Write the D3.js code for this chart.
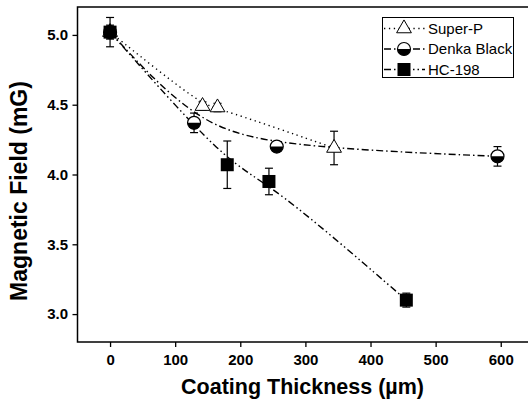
<!DOCTYPE html>
<html>
<head>
<meta charset="utf-8">
<script src="https://cdn.jsdelivr.net/npm/d3@7"></script>
<style>
  body { margin: 0; background: #fff; }
  text { font-family: "Liberation Sans", Arial, sans-serif; fill: #000; }
</style>
</head>
<body>
<div id="chart"></div>
<script>
// values
const seriesNames = ['Super-P', 'Denka Black', 'HC-198'];

const superPThickness = [0, 142, 165, 344];
const superPField = [5.02, 4.49, 4.48, 4.19];
const superPError = [0.04, 0.03, 0.03, 0.12];

const denkaThickness = [0, 129, 256, 595];
const denkaField = [5.02, 4.37, 4.2, 4.13];
const denkaError = [0.05, 0.07, 0.03, 0.07];

const hcThickness = [0, 180, 244, 455];
const hcField = [5.02, 4.07, 3.95, 3.1];
const hcError = [0.105, 0.17, 0.095, 0.05];

const xTicks = [0, 100, 200, 300, 400, 500, 600];
const yTicks = [3.0, 3.5, 4.0, 4.5, 5.0];

const width = 528;
const height = 406;

const x = d3.scaleLinear().domain([-50, 650]).range([77.5, 533.3]);
const y = d3.scaleLinear().domain([2.8, 5.2]).range([342, 7]);

const zip = (xs, ys, es) => xs.map((t, i) => ({ t, v: ys[i], e: es[i] }));

const series = [
  { name: seriesNames[0], marker: 'triangle', dash: '1.3,3.6', points: zip(superPThickness, superPField, superPError) },
  { name: seriesNames[1], marker: 'halfcircle', dash: '7,3,1.5,3', points: zip(denkaThickness, denkaField, denkaError) },
  { name: seriesNames[2], marker: 'square', dash: '7,3,1.5,3,1.5,3', points: zip(hcThickness, hcField, hcError) },
];

const svg = d3.select('#chart')
  .append('svg')
  .attr('width', width)
  .attr('height', height);

// axes
const xAxis = svg.append('g')
  .attr('transform', `translate(0,${y.range()[0]})`)
  .call(d3.axisBottom(x).tickValues(xTicks).tickSize(5).tickSizeOuter(0).tickPadding(7));

const yAxis = svg.append('g')
  .attr('transform', `translate(${x.range()[0]},0)`)
  .call(d3.axisLeft(y).tickValues(yTicks).tickSize(5).tickSizeOuter(0).tickPadding(4.5)
    .tickFormat(d3.format('.1f')));

[xAxis, yAxis].forEach((g) => {
  g.select('.domain').remove();
  g.selectAll('.tick line').attr('stroke', '#000').attr('stroke-width', 1.3);
  g.selectAll('.tick text')
    .attr('fill', '#000')
    .style('font-size', '15px')
    .style('font-weight', 'bold')
    .style('font-family', '"Liberation Sans", Arial, sans-serif');
});

// frame
svg.append('rect')
  .attr('x', x.range()[0])
  .attr('y', y.range()[1])
  .attr('width', x.range()[1] - x.range()[0])
  .attr('height', y.range()[0] - y.range()[1])
  .attr('fill', 'none')
  .attr('stroke', '#000')
  .attr('stroke-width', 1.5);

// axis titles
svg.append('text')
  .attr('x', 302.5)
  .attr('y', 394)
  .attr('text-anchor', 'middle')
  .style('font-size', '21.5px')
  .style('font-weight', 'bold')
  .text('Coating Thickness (\u00b5m)');

svg.append('text')
  .attr('transform', 'translate(27,191) rotate(-90)')
  .attr('text-anchor', 'middle')
  .style('font-size', '23px')
  .style('font-weight', 'bold')
  .text('Magnetic Field (mG)');

// lines (smoothed like the original plot)
const line = d3.line()
  .x((d) => x(d.t))
  .y((d) => y(d.v))
  .curve(d3.curveBasis);

svg.append('g')
  .selectAll('path')
  .data(series)
  .join('path')
  .attr('d', (d) => line(d.points))
  .attr('fill', 'none')
  .attr('stroke', '#000')
  .attr('stroke-width', 1.4)
  .attr('stroke-dasharray', (d) => d.dash);

const drawMarker = (g, type) => {
  if (type === 'triangle') {
    g.append('path')
      .attr('d', d3.symbol(d3.symbolTriangle, 95)())
      .attr('fill', '#fff')
      .attr('stroke', '#000')
      .attr('stroke-width', 1);
  } else if (type === 'square') {
    g.append('rect')
      .attr('x', -6.5).attr('y', -6.5)
      .attr('width', 13).attr('height', 13)
      .attr('fill', '#000');
  } else {
    const r = 6.5;
    g.append('circle').attr('r', r).attr('fill', '#fff').attr('stroke', '#000').attr('stroke-width', 1.2);
    g.append('path')
      .attr('d', `M${-r},0 A${r},${r} 0 0 0 ${r},0 Z`)
      .attr('fill', '#000');
  }
};

// error bars and markers
series.forEach((s) => {
  const g = svg.append('g');
  const bars = g.selectAll('g.err')
    .data(s.points)
    .join('g')
    .attr('class', 'err')
    .attr('stroke', '#000')
    .attr('stroke-width', 1.2);
  bars.append('line')
    .attr('x1', (d) => x(d.t)).attr('x2', (d) => x(d.t))
    .attr('y1', (d) => y(d.v + d.e)).attr('y2', (d) => y(d.v - d.e));
  bars.append('line')
    .attr('x1', (d) => x(d.t) - 4).attr('x2', (d) => x(d.t) + 4)
    .attr('y1', (d) => y(d.v + d.e)).attr('y2', (d) => y(d.v + d.e));
  bars.append('line')
    .attr('x1', (d) => x(d.t) - 4).attr('x2', (d) => x(d.t) + 4)
    .attr('y1', (d) => y(d.v - d.e)).attr('y2', (d) => y(d.v - d.e));

  g.selectAll('g.mk')
    .data(s.points)
    .join('g')
    .attr('class', 'mk')
    .attr('transform', (d) => `translate(${x(d.t)},${y(d.v)})`)
    .each(function () { drawMarker(d3.select(this), s.marker); });
});

// legend
const legend = svg.append('g');
legend.append('rect')
  .attr('x', 382.5).attr('y', 17.5)
  .attr('width', 131).attr('height', 60)
  .attr('fill', '#fff')
  .attr('stroke', '#000')
  .attr('stroke-width', 1);

const rows = legend.selectAll('g.row')
  .data(series)
  .join('g')
  .attr('class', 'row')
  .attr('transform', (d, i) => `translate(0,${28.5 + i * 20.5})`);

rows.append('line')
  .attr('x1', 384).attr('x2', 425)
  .attr('stroke', '#000')
  .attr('stroke-width', 1.4)
  .attr('stroke-dasharray', (d) => d.dash);

rows.append('g')
  .attr('transform', 'translate(404,0)')
  .each(function (d) { drawMarker(d3.select(this), d.marker); });

rows.append('text')
  .attr('x', 428)
  .attr('dy', '0.36em')
  .style('font-size', '15px')
  .text((d) => d.name);
</script>
</body>
</html>
